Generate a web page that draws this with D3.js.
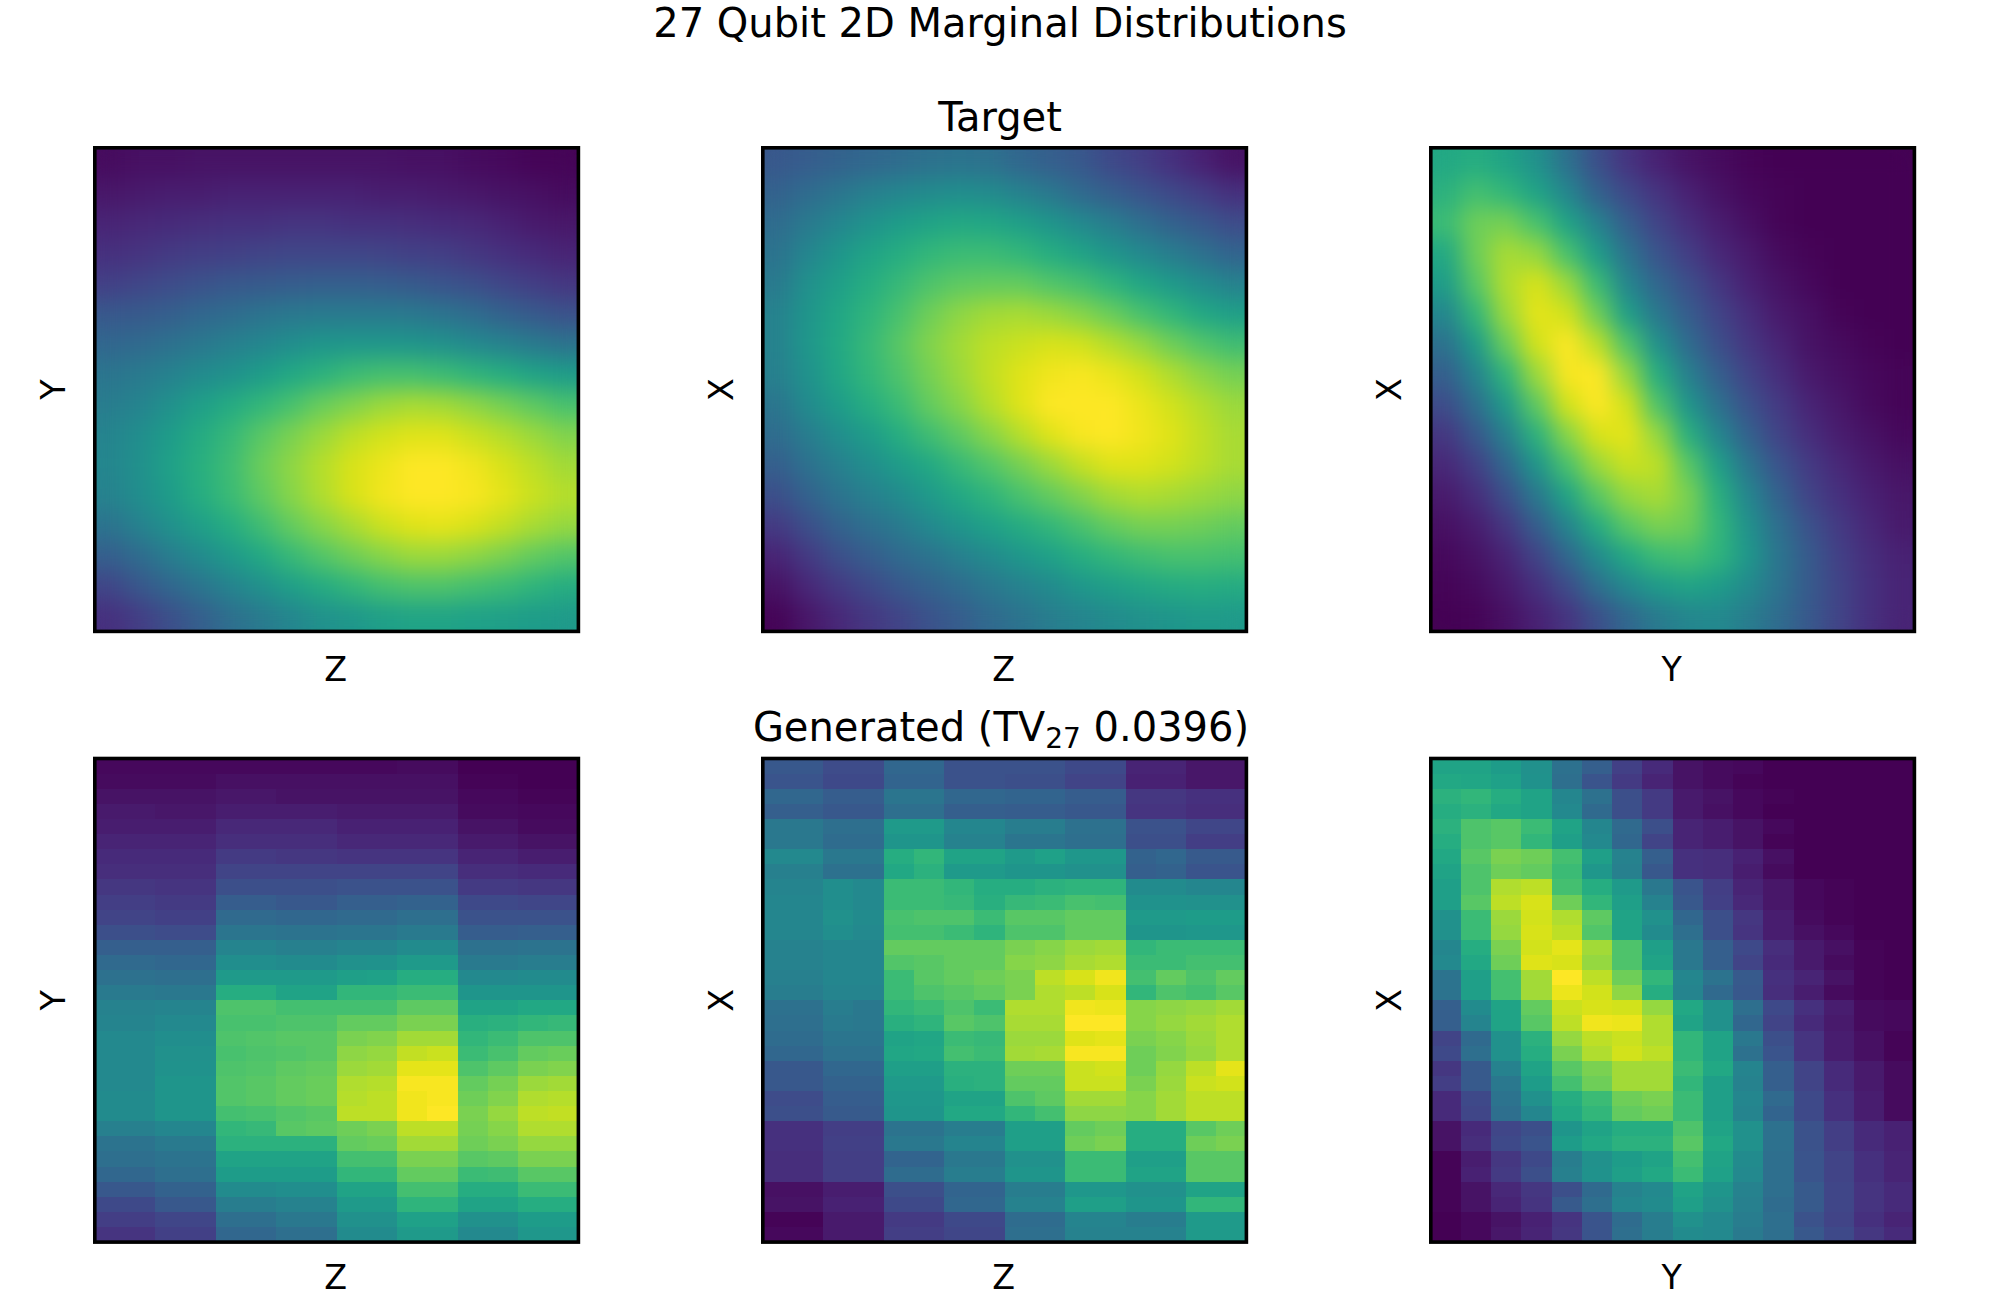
<!DOCTYPE html>
<html>
<head>
<meta charset="utf-8">
<script src="https://cdn.jsdelivr.net/npm/d3@7"></script>
<style>
  body { margin: 0; background: #fff; }
  text { font-family: "DejaVu Sans"; fill: #000; }
</style>
</head>
<body>
<div id="vis"></div>
<script>
// values, 0 = darkest, 1 = brightest, rows run top to bottom
let targetZY = [
  [.03,.04,.04,.05,.05,.05,.05,.05,.05,.05,.04,.04,.03,.02,.01,.01],
  [.06,.07,.08,.08,.09,.09,.09,.09,.09,.08,.08,.07,.06,.05,.04,.03],
  [.10,.11,.12,.13,.14,.14,.15,.15,.14,.14,.13,.12,.11,.09,.07,.06],
  [.14,.15,.17,.18,.19,.20,.21,.21,.21,.20,.19,.18,.16,.14,.12,.10],
  [.19,.21,.23,.25,.27,.28,.29,.30,.30,.29,.28,.26,.24,.21,.18,.16],
  [.27,.28,.30,.33,.35,.38,.40,.41,.41,.41,.40,.38,.35,.31,.28,.25],
  [.33,.34,.37,.40,.43,.46,.49,.52,.53,.53,.52,.50,.47,.44,.41,.38],
  [.39,.41,.44,.48,.51,.55,.60,.64,.68,.70,.70,.68,.65,.62,.58,.55],
  [.42,.45,.50,.56,.61,.66,.71,.77,.81,.85,.87,.86,.83,.79,.75,.71],
  [.45,.49,.55,.61,.67,.74,.80,.85,.90,.93,.95,.95,.92,.89,.85,.81],
  [.46,.50,.57,.63,.69,.77,.83,.89,.94,.97,1,1,.98,.94,.90,.86],
  [.44,.49,.55,.62,.68,.75,.82,.88,.94,.98,1,1,.99,.96,.92,.89],
  [.38,.44,.50,.56,.62,.69,.76,.82,.87,.92,.95,.96,.94,.91,.87,.84],
  [.30,.35,.42,.48,.54,.60,.67,.73,.78,.82,.85,.85,.83,.80,.76,.73],
  [.21,.27,.33,.39,.45,.50,.56,.61,.66,.70,.72,.72,.70,.68,.65,.62],
  [.14,.18,.24,.30,.36,.41,.46,.50,.53,.56,.58,.58,.57,.56,.55,.54]
]
let targetZX = [
  [.27,.29,.31,.33,.35,.37,.38,.37,.33,.30,.27,.22,.18,.14,.09,.05],
  [.31,.35,.39,.43,.46,.48,.49,.48,.44,.40,.34,.30,.26,.22,.18,.14],
  [.35,.41,.46,.51,.55,.58,.60,.59,.56,.52,.47,.42,.36,.31,.27,.23],
  [.38,.46,.52,.58,.62,.66,.68,.68,.66,.62,.58,.52,.47,.42,.37,.32],
  [.41,.50,.56,.62,.67,.72,.75,.76,.76,.73,.70,.65,.59,.54,.49,.44],
  [.44,.52,.59,.65,.71,.78,.83,.86,.87,.85,.82,.77,.71,.66,.60,.56],
  [.44,.53,.60,.67,.74,.81,.86,.90,.92,.94,.93,.89,.84,.78,.73,.69],
  [.43,.51,.59,.66,.72,.79,.85,.91,.95,.98,.99,.97,.93,.88,.83,.79],
  [.39,.48,.55,.62,.68,.76,.82,.89,.95,1,1,1,.97,.93,.89,.85],
  [.35,.42,.49,.55,.62,.69,.75,.82,.89,.95,.99,1,.98,.95,.91,.87],
  [.30,.37,.43,.49,.55,.60,.67,.73,.79,.85,.91,.95,.95,.93,.90,.87],
  [.24,.31,.38,.43,.48,.54,.60,.65,.71,.76,.81,.86,.88,.87,.85,.83],
  [.17,.24,.31,.36,.41,.47,.52,.57,.61,.66,.71,.76,.79,.79,.78,.76],
  [.10,.17,.24,.29,.34,.38,.43,.48,.53,.57,.62,.66,.69,.71,.71,.70],
  [.05,.11,.17,.22,.27,.31,.35,.40,.44,.48,.53,.56,.59,.61,.62,.61],
  [.01,.06,.11,.16,.20,.25,.29,.34,.38,.42,.45,.48,.50,.52,.54,.54]
]
let targetYX = [
  [.60,.62,.58,.50,.37,.24,.15,.09,.05,.03,.01,0,0,0,0,0],
  [.64,.70,.66,.58,.46,.31,.22,.15,.09,.05,.02,.01,0,0,0,0],
  [.68,.78,.79,.71,.58,.44,.30,.20,.13,.08,.04,.01,0,0,0,0],
  [.60,.78,.87,.84,.71,.55,.38,.26,.18,.11,.07,.03,.01,0,0,0],
  [.55,.74,.88,.94,.85,.68,.46,.33,.24,.16,.09,.05,.02,0,0,0],
  [.46,.66,.85,.96,.93,.78,.56,.40,.29,.20,.13,.07,.04,.01,0,0],
  [.37,.55,.77,.93,1,.90,.72,.50,.35,.24,.16,.10,.05,.03,.01,0],
  [.30,.45,.65,.85,.99,1,.84,.62,.43,.30,.20,.13,.07,.04,.02,.01],
  [.23,.36,.54,.75,.93,1,.93,.72,.52,.37,.25,.17,.10,.06,.03,.01],
  [.16,.27,.43,.64,.82,.94,.96,.84,.63,.46,.31,.20,.13,.08,.05,.02],
  [.11,.19,.33,.52,.71,.85,.92,.90,.74,.56,.39,.26,.17,.11,.07,.04],
  [.07,.13,.24,.40,.58,.74,.84,.87,.80,.63,.46,.31,.20,.14,.09,.06],
  [.04,.08,.16,.29,.45,.61,.74,.80,.78,.66,.51,.36,.25,.17,.11,.07],
  [.02,.05,.10,.20,.33,.48,.60,.68,.70,.65,.53,.39,.28,.19,.13,.09],
  [.01,.03,.07,.14,.23,.36,.47,.54,.58,.55,.48,.38,.28,.20,.14,.10],
  [0,.01,.04,.09,.15,.24,.33,.41,.46,.47,.42,.35,.27,.20,.14,.10]
]
let generatedZY = [
  [.02,.02,.02,.02,.02,.02,.02,.02,.02,.02,.03,.03,.00,.00,.00,.00],
  [.03,.03,.03,.03,.04,.04,.04,.04,.04,.04,.04,.04,.01,.01,.00,.00],
  [.05,.05,.05,.05,.06,.06,.05,.05,.05,.05,.05,.05,.02,.02,.01,.01],
  [.07,.07,.06,.06,.08,.08,.08,.08,.07,.07,.07,.07,.03,.03,.02,.02],
  [.08,.08,.08,.08,.11,.11,.11,.11,.09,.09,.09,.09,.05,.05,.03,.03],
  [.10,.10,.10,.10,.13,.13,.13,.13,.11,.11,.11,.11,.07,.07,.05,.05],
  [.12,.12,.12,.12,.17,.17,.16,.16,.15,.15,.15,.15,.10,.10,.08,.08],
  [.13,.13,.13,.13,.20,.20,.20,.20,.20,.20,.20,.20,.13,.13,.12,.12],
  [.16,.16,.15,.15,.24,.24,.24,.24,.25,.25,.25,.25,.17,.17,.16,.16],
  [.18,.18,.17,.17,.29,.29,.27,.27,.30,.30,.31,.31,.22,.22,.21,.21],
  [.20,.20,.19,.19,.34,.34,.33,.33,.34,.34,.36,.36,.25,.25,.25,.25],
  [.24,.24,.23,.23,.39,.39,.38,.38,.39,.39,.41,.41,.29,.29,.30,.30],
  [.30,.30,.30,.30,.45,.45,.43,.43,.45,.45,.48,.48,.37,.37,.38,.38],
  [.34,.34,.33,.33,.49,.49,.48,.48,.50,.51,.54,.54,.41,.41,.42,.42],
  [.37,.37,.36,.36,.54,.54,.54,.54,.56,.57,.62,.62,.47,.47,.48,.48],
  [.41,.41,.40,.40,.62,.62,.58,.58,.66,.66,.68,.68,.52,.52,.52,.52],
  [.44,.44,.45,.45,.72,.72,.70,.70,.70,.70,.75,.75,.58,.58,.60,.60],
  [.45,.45,.47,.47,.71,.71,.72,.72,.76,.76,.80,.80,.63,.64,.66,.67],
  [.47,.47,.49,.49,.72,.73,.74,.74,.80,.81,.86,.86,.66,.68,.72,.72],
  [.47,.47,.50,.50,.71,.72,.73,.74,.83,.84,.91,.92,.68,.71,.76,.77],
  [.47,.47,.51,.51,.72,.73,.75,.76,.85,.86,.96,.96,.72,.75,.80,.81],
  [.47,.47,.52,.52,.73,.74,.76,.77,.88,.89,.99,.99,.76,.79,.85,.86],
  [.48,.48,.52,.52,.73,.74,.76,.77,.89,.90,.98,.99,.78,.81,.88,.89],
  [.48,.48,.52,.52,.70,.71,.73,.74,.90,.90,.98,1,.80,.84,.90,.91],
  [.43,.43,.46,.46,.66,.67,.74,.75,.78,.80,.90,.90,.79,.82,.88,.88],
  [.38,.38,.41,.41,.64,.64,.64,.64,.76,.77,.86,.86,.78,.80,.84,.84],
  [.36,.36,.38,.38,.58,.58,.58,.58,.70,.70,.80,.80,.74,.75,.80,.80],
  [.33,.33,.36,.36,.55,.55,.55,.55,.66,.66,.76,.76,.68,.69,.74,.74],
  [.27,.27,.31,.31,.48,.48,.49,.49,.58,.58,.70,.70,.62,.62,.68,.68],
  [.22,.22,.27,.27,.42,.42,.44,.44,.54,.54,.65,.65,.58,.58,.62,.62],
  [.18,.18,.21,.21,.36,.36,.40,.40,.50,.50,.57,.57,.50,.50,.55,.55],
  [.15,.15,.19,.19,.33,.33,.36,.36,.48,.48,.54,.54,.47,.47,.53,.53]
]
let generatedZX = [
  [.27,.27,.23,.23,.33,.33,.25,.25,.25,.25,.22,.22,.10,.10,.06,.06],
  [.26,.26,.22,.22,.32,.32,.25,.25,.24,.24,.20,.20,.09,.09,.06,.06],
  [.33,.33,.29,.29,.39,.39,.33,.33,.32,.32,.29,.29,.16,.16,.14,.14],
  [.30,.30,.27,.27,.36,.36,.30,.30,.29,.29,.27,.27,.15,.15,.13,.13],
  [.40,.40,.36,.36,.54,.54,.46,.46,.42,.42,.37,.37,.25,.25,.21,.21],
  [.40,.40,.35,.35,.52,.52,.44,.44,.39,.39,.36,.36,.24,.24,.18,.18],
  [.47,.47,.40,.40,.62,.66,.58,.58,.54,.57,.53,.53,.31,.33,.28,.28],
  [.43,.43,.37,.37,.60,.64,.54,.54,.52,.52,.50,.50,.30,.31,.26,.26],
  [.45,.45,.49,.47,.68,.68,.66,.62,.62,.64,.65,.65,.48,.48,.46,.46],
  [.46,.46,.49,.47,.68,.68,.67,.63,.67,.68,.71,.70,.51,.51,.50,.50],
  [.46,.46,.50,.48,.71,.72,.72,.68,.74,.74,.76,.76,.54,.54,.55,.55],
  [.46,.46,.49,.47,.70,.70,.68,.65,.72,.72,.76,.76,.52,.52,.53,.53],
  [.44,.44,.46,.46,.76,.76,.76,.76,.80,.82,.85,.86,.66,.68,.68,.68],
  [.44,.44,.46,.46,.73,.74,.76,.76,.82,.83,.87,.88,.68,.68,.70,.70],
  [.43,.43,.46,.46,.68,.74,.76,.78,.80,.90,.94,.98,.70,.76,.72,.76],
  [.42,.42,.45,.45,.68,.72,.74,.76,.80,.88,.90,.94,.66,.72,.70,.74],
  [.37,.37,.42,.40,.66,.68,.72,.68,.88,.88,.98,.97,.82,.83,.84,.86],
  [.36,.36,.41,.40,.63,.65,.74,.72,.87,.87,1,1,.82,.84,.86,.88],
  [.35,.35,.39,.39,.58,.59,.68,.67,.85,.85,.95,.96,.80,.82,.85,.88],
  [.33,.33,.37,.37,.59,.60,.70,.68,.86,.87,.99,.99,.78,.81,.84,.88],
  [.27,.27,.33,.33,.56,.56,.64,.64,.78,.78,.92,.93,.78,.84,.90,.96],
  [.27,.27,.31,.31,.54,.54,.63,.64,.76,.76,.92,.92,.80,.85,.92,.93],
  [.23,.23,.29,.29,.53,.53,.58,.58,.72,.75,.86,.86,.82,.86,.90,.90],
  [.24,.24,.28,.28,.52,.52,.60,.60,.66,.70,.83,.83,.82,.86,.90,.90],
  [.14,.14,.18,.18,.38,.38,.42,.42,.56,.56,.76,.78,.62,.62,.74,.78],
  [.14,.14,.19,.19,.40,.40,.45,.45,.56,.56,.78,.80,.62,.62,.78,.80],
  [.13,.13,.18,.18,.32,.32,.40,.40,.50,.50,.68,.68,.56,.56,.74,.74],
  [.13,.13,.18,.18,.35,.35,.42,.42,.52,.52,.68,.68,.58,.58,.74,.74],
  [.04,.04,.08,.08,.24,.24,.32,.32,.42,.42,.53,.53,.50,.50,.58,.58],
  [.05,.05,.09,.09,.22,.22,.33,.33,.44,.44,.56,.56,.52,.52,.66,.66],
  [.01,.01,.07,.07,.17,.17,.22,.22,.35,.35,.45,.45,.42,.42,.54,.54],
  [.02,.02,.07,.07,.18,.18,.21,.21,.36,.36,.44,.44,.44,.44,.54,.54]
]
let generatedYX = [
  [.58,.58,.55,.50,.37,.30,.19,.12,.05,.03,.02,.00,0,0,0,0],
  [.60,.59,.57,.51,.36,.26,.17,.10,.05,.03,.01,0,0,0,0,0],
  [.64,.66,.62,.58,.46,.37,.24,.17,.07,.05,.02,.01,0,0,0,0],
  [.62,.64,.60,.58,.47,.34,.24,.17,.07,.04,.02,0,0,0,0,0],
  [.64,.72,.74,.68,.58,.46,.34,.24,.10,.08,.05,.02,0,0,0,0],
  [.62,.72,.74,.66,.56,.47,.33,.20,.10,.08,.05,.01,0,0,0,0],
  [.60,.74,.80,.78,.70,.56,.44,.30,.14,.13,.09,.04,0,0,0,0],
  [.58,.72,.78,.76,.68,.53,.43,.27,.14,.13,.08,.03,0,0,0,0],
  [.56,.72,.88,.90,.70,.62,.54,.40,.26,.18,.10,.06,.02,.01,0,0],
  [.56,.74,.90,.94,.78,.66,.56,.44,.27,.19,.11,.06,.02,.01,0,0],
  [.50,.68,.85,.93,.88,.75,.58,.50,.33,.24,.16,.08,.03,.01,0,0],
  [.50,.68,.84,.94,.90,.73,.58,.48,.36,.24,.15,.08,.04,.02,0,0],
  [.46,.62,.80,.93,.96,.86,.72,.56,.40,.30,.22,.13,.07,.04,.01,0],
  [.47,.60,.78,.95,.94,.84,.72,.58,.40,.30,.20,.12,.07,.03,.01,0],
  [.38,.56,.70,.86,1,.90,.78,.66,.46,.38,.28,.14,.10,.05,.01,0],
  [.38,.56,.70,.86,.97,.93,.83,.62,.45,.34,.27,.13,.08,.03,.01,0],
  [.30,.48,.58,.76,.92,.94,.93,.84,.60,.50,.36,.22,.14,.08,.03,.02],
  [.30,.45,.58,.74,.90,.98,.97,.88,.58,.50,.33,.20,.12,.07,.03,.02],
  [.20,.34,.50,.64,.84,.90,.92,.88,.66,.58,.40,.24,.15,.08,.04,.01],
  [.22,.36,.50,.62,.80,.88,.93,.90,.66,.58,.37,.26,.15,.08,.04,.01],
  [.16,.28,.44,.58,.74,.80,.86,.86,.68,.60,.45,.30,.20,.12,.07,.03],
  [.18,.28,.40,.55,.70,.78,.86,.86,.66,.56,.44,.30,.20,.12,.07,.03],
  [.12,.22,.38,.50,.62,.68,.78,.80,.68,.56,.46,.34,.22,.14,.08,.03],
  [.12,.21,.36,.46,.60,.66,.76,.78,.68,.56,.45,.32,.22,.14,.08,.03],
  [.05,.12,.21,.24,.52,.58,.62,.62,.72,.58,.50,.37,.25,.18,.12,.09],
  [.05,.13,.22,.26,.55,.60,.64,.64,.74,.60,.50,.37,.25,.18,.12,.09],
  [.01,.08,.16,.22,.42,.50,.55,.58,.70,.58,.48,.36,.26,.20,.14,.10],
  [.01,.09,.17,.24,.43,.51,.56,.60,.68,.57,.47,.36,.26,.20,.14,.10],
  [.01,.05,.11,.16,.24,.34,.44,.47,.58,.52,.44,.36,.28,.21,.15,.12],
  [.01,.05,.10,.15,.28,.36,.46,.48,.56,.50,.43,.35,.28,.21,.15,.12],
  [0,.02,.05,.09,.15,.26,.35,.42,.50,.47,.42,.36,.25,.20,.14,.10],
  [0,.02,.06,.10,.16,.26,.36,.42,.48,.47,.41,.36,.27,.22,.16,.12]
]

let xLabels = ['Z', 'Z', 'Y']
let yLabels = ['Y', 'X', 'X']
let targets = [targetZY, targetZX, targetYX]
let generated = [generatedZY, generatedZX, generatedYX]

let width = 2000
let height = 1300
let size = 483.6
let left = [94.8, 762.8, 1430.8]
let top_ = [147.8, 758.5]
let labelGap = [50, 47]

let color = d3.scaleSequential(d3.interpolateViridis).domain([0, 1])

let svg = d3.select('#vis')
  .append('svg')
  .attr('width', width)
  .attr('height', height)
  .style('display', 'block')

// targets are smooth in the picture, so their cells get blurred together.
// the alpha step puts back the colour the blur fades out along the panel edge
let smooth = svg.append('defs').append('filter')
    .attr('id', 'smooth')
    .attr('x', 0).attr('y', 0).attr('width', 1).attr('height', 1)
    .attr('color-interpolation-filters', 'sRGB')
smooth.append('feGaussianBlur')
    .attr('stdDeviation', 11)
smooth.append('feComponentTransfer')
  .append('feFuncA')
    .attr('type', 'linear')
    .attr('slope', 20)

function panel(values, col, row, blurred) {
  let x = d3.scaleBand().domain(d3.range(values[0].length)).range([left[col], left[col] + size])
  let y = d3.scaleBand().domain(d3.range(values.length)).range([top_[row], top_[row] + size])

  let cells = values.flatMap((r, j) => r.map((v, i) => ({ i: i, j: j, v: v })))

  let g = svg.append('g').attr('shape-rendering', 'crispEdges')
  if (blurred) g.attr('filter', 'url(#smooth)')

  g.selectAll('rect')
    .data(cells)
    .enter()
    .append('rect')
      .attr('x', d => x(d.i))
      .attr('y', d => y(d.j))
      .attr('width', x.bandwidth())
      .attr('height', y.bandwidth())
      .attr('fill', d => color(d.v))

  svg.append('rect')
    .attr('x', left[col])
    .attr('y', top_[row])
    .attr('width', size)
    .attr('height', size)
    .attr('fill', 'none')
    .attr('stroke', '#000')
    .attr('stroke-width', 3.6)

  svg.append('text')
    .attr('x', left[col] + size / 2 - 1)
    .attr('y', top_[row] + size + labelGap[row])
    .attr('text-anchor', 'middle')
    .attr('font-size', 33.3)
    .text(xLabels[col])

  let lx = left[col] - 30
  let ly = top_[row] + size / 2
  svg.append('text')
    .attr('transform', 'translate(' + lx + ',' + ly + ') rotate(-90)')
    .attr('text-anchor', 'middle')
    .attr('font-size', 33.3)
    .text(yLabels[col])
}

targets.forEach((t, c) => panel(t, c, 0, true))
generated.forEach((t, c) => panel(t, c, 1, false))

svg.append('text')
  .attr('x', 1000).attr('y', 37.2)
  .attr('text-anchor', 'middle')
  .attr('font-size', 40)
  .text('27 Qubit 2D Marginal Distributions')

svg.append('text')
  .attr('x', 1000).attr('y', 131)
  .attr('text-anchor', 'middle')
  .attr('font-size', 40)
  .text('Target')

let sub = svg.append('text')
  .attr('x', 1001).attr('y', 741)
  .attr('text-anchor', 'middle')
  .attr('font-size', 40)
sub.append('tspan').text('Generated (TV')
sub.append('tspan').attr('dy', 7).attr('font-size', 28).text('27')
sub.append('tspan').attr('dy', -7).text(' 0.0396)')
</script>
</body>
</html>
